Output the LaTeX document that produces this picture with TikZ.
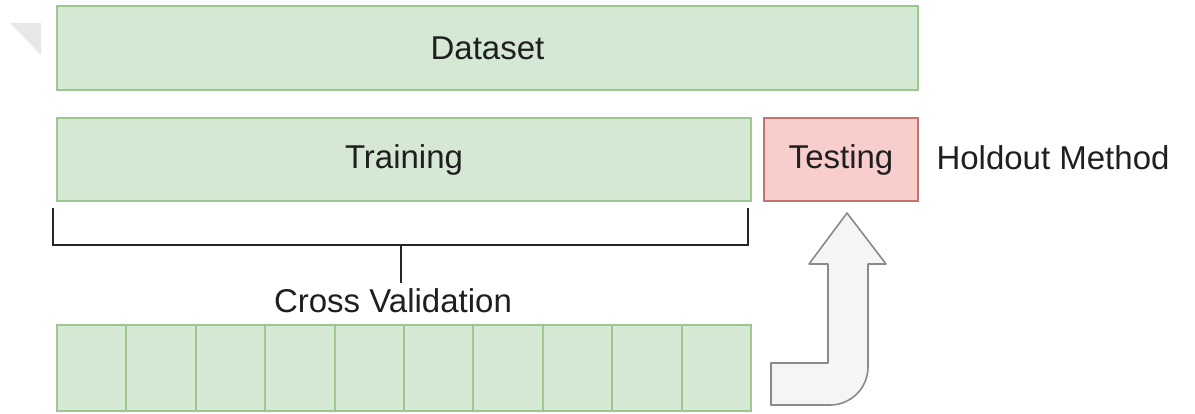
\documentclass[tikz,border=0pt]{standalone}
\usepackage{fontspec}
\setmainfont{Liberation Sans}
\definecolor{gfill}{HTML}{D5E8D4}
\definecolor{gline}{HTML}{9CC78E}
\definecolor{rfill}{HTML}{F8CECC}
\definecolor{rline}{HTML}{C9716D}
\definecolor{afill}{HTML}{F5F5F5}
\definecolor{aline}{HTML}{8A8A8A}
\begin{document}
\begin{tikzpicture}[x=1pt,y=-1pt,
  greenbox/.style={draw=gline,fill=gfill,line width=2pt,inner sep=0pt},
  redbox/.style={draw=rline,fill=rfill,line width=2pt,inner sep=0pt},
  lbl/.style={font=\fontsize{33}{38}\selectfont,text=black!88},
  brace/.style={draw=black!85,line width=2.4pt}]
\useasboundingbox (0,0) rectangle (1195,414);
\fill[white] (0,0) rectangle (1195,414);
% faded corner marker
\fill[black!9] (10,23) -- (41,23) -- (41,55) -- cycle;
% boxes
\node[greenbox,minimum width=861pt,minimum height=84pt,anchor=north west] (data) at (56,5) {};
\node[lbl] at (data.center) {Dataset};
\node[greenbox,minimum width=694pt,minimum height=83pt,anchor=north west] (train) at (56,117) {};
\node[lbl] at (train.center) {Training};
\node[redbox,minimum width=154pt,minimum height=83pt,anchor=north west] (test) at (763,117) {};
\node[lbl] at (test.center) {Testing};
\node[lbl,anchor=west] (hold) at (933,158) {Holdout Method};
% bracket under training
\coordinate (bl) at (53,208);
\coordinate (br) at (748,208);
\coordinate (stem) at (401,283);
\draw[brace] (bl) -- (53,245) -- (748,245) -- (br);
\draw[brace] (401,245) -- (stem);
\node[lbl] (cv) at (393,301) {Cross Validation};
% folds
\foreach \i in {0,...,9}{
  \node[greenbox,minimum width=69.4pt,minimum height=86pt,anchor=north west] (f\i) at ({56+69.4*\i},324) {};
}
% bent arrow to testing
\draw[draw=aline,fill=afill,line width=1.6pt,line join=round]
  (847,213) -- (886,264) -- (868,264) -- (868,367)
  .. controls (868,388) and (851,405) .. (830,405) -- (771,405)
  -- (771,363) -- (828,363) -- (828,264) -- (809,264) -- cycle;
\end{tikzpicture}
\end{document}
